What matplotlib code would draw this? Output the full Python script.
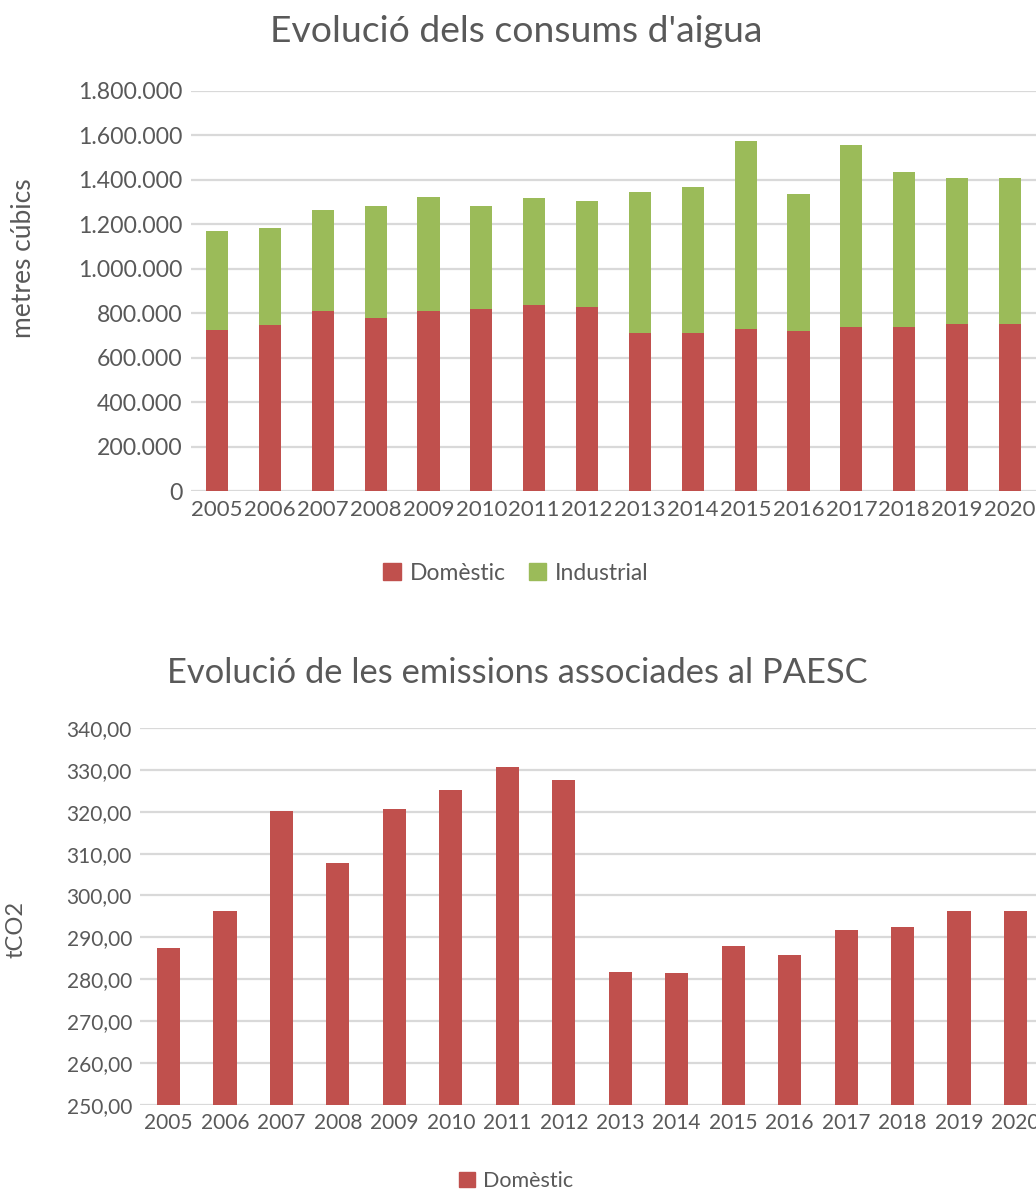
import matplotlib
matplotlib.use('Agg')
import matplotlib.pyplot as plt
from matplotlib.patches import Patch
from matplotlib.ticker import FuncFormatter

# Data
years = [str(y) for y in range(2005, 2021)]
domestic_water = [725000, 747000, 810000, 779000, 810000, 819000, 837000, 828000,
                  711000, 711000, 729000, 720000, 738000, 738000, 752000, 752000]
total_water = [1170000, 1183000, 1264000, 1282000, 1323000, 1282000, 1318000, 1305000,
               1345000, 1368000, 1574000, 1336000, 1556000, 1435000, 1408000, 1408000]
industrial_water = [t - d for t, d in zip(total_water, domestic_water)]
emissions = [287.5, 296.3, 320.2, 307.8, 320.7, 325.2, 330.7, 327.6,
             281.8, 281.5, 288.0, 285.8, 291.8, 292.5, 296.3, 296.3]

RED = '#C0504D'
GREEN = '#9BBB59'
TEXT = '#595959'
GRID = '#D9D9D9'

W, H = 1036, 1191
plt.rcParams['font.family'] = ['Lato', 'DejaVu Sans']

fig = plt.figure(figsize=(W / 100, H / 100), dpi=100)


def px(x, y):
    # pixel position (from top-left) -> figure fraction
    return x / W, 1 - y / H


def style_axes(ax, size):
    for s in ax.spines.values():
        s.set_visible(False)
    ax.grid(axis='y', color=GRID, linewidth=1.6)
    ax.set_axisbelow(True)
    ax.tick_params(length=0, colors=TEXT, labelsize=size)
    ax.tick_params(axis='y', pad=6)
    ax.tick_params(axis='x', pad=6)


# ---- top chart: water consumption ----
ax1 = fig.add_axes([190.6 / W, 1 - 491.3 / H, 845.8 / W, 400.5 / H])
ax1.bar(years, domestic_water, width=0.42, color=RED, label='Domèstic')
ax1.bar(years, industrial_water, width=0.42, bottom=domestic_water, color=GREEN, label='Industrial')
ax1.set_xlim(-0.5, len(years) - 0.5)
ax1.set_ylim(0, 1800000)
ax1.set_yticks(range(0, 1800001, 200000))
ax1.yaxis.set_major_formatter(FuncFormatter(lambda v, p: '{:,.0f}'.format(v).replace(',', '.')))
style_axes(ax1, 16.6)
ax1.tick_params(axis='x', labelsize=16)

fig.text(*px(516, 32), "Evolució dels consums d'aigua", ha='center', va='center',
         fontsize=26.8, color=TEXT)
fig.text(*px(24, 258), 'metres cúbics', ha='center', va='center', rotation=90,
         fontsize=19, color=TEXT)
fig.legend(handles=[Patch(color=RED, label='Domèstic'), Patch(color=GREEN, label='Industrial')],
           loc='center', bbox_to_anchor=px(516, 573), ncol=2, frameon=False,
           handlelength=0.75, handleheight=0.75, handletextpad=0.4, columnspacing=1.0,
           fontsize=16.5, labelcolor=TEXT)

# ---- bottom chart: emissions ----
ax2 = fig.add_axes([140.3 / W, 1 - 1105 / H, 903.4 / W, 377.1 / H])
ax2.bar(years, emissions, width=0.41, color=RED, label='Domèstic')
ax2.set_xlim(-0.5, len(years) - 0.5)
ax2.set_ylim(250, 340)
ax2.set_yticks(range(250, 341, 10))
ax2.yaxis.set_major_formatter(FuncFormatter(lambda v, p: '{:.2f}'.format(v).replace('.', ',')))
style_axes(ax2, 15)

fig.text(*px(517, 673), 'Evolució de les emissions associades al PAESC', ha='center', va='center',
         fontsize=24.8, color=TEXT)
fig.text(*px(16, 929), 'tCO2', ha='center', va='center', rotation=90,
         fontsize=17, color=TEXT)
fig.legend(handles=[Patch(color=RED, label='Domèstic')],
           loc='center', bbox_to_anchor=px(516, 1181), ncol=1, frameon=False,
           handlelength=0.75, handleheight=0.75, handletextpad=0.4,
           fontsize=15.5, labelcolor=TEXT)

fig.savefig('out.png', dpi=100)
